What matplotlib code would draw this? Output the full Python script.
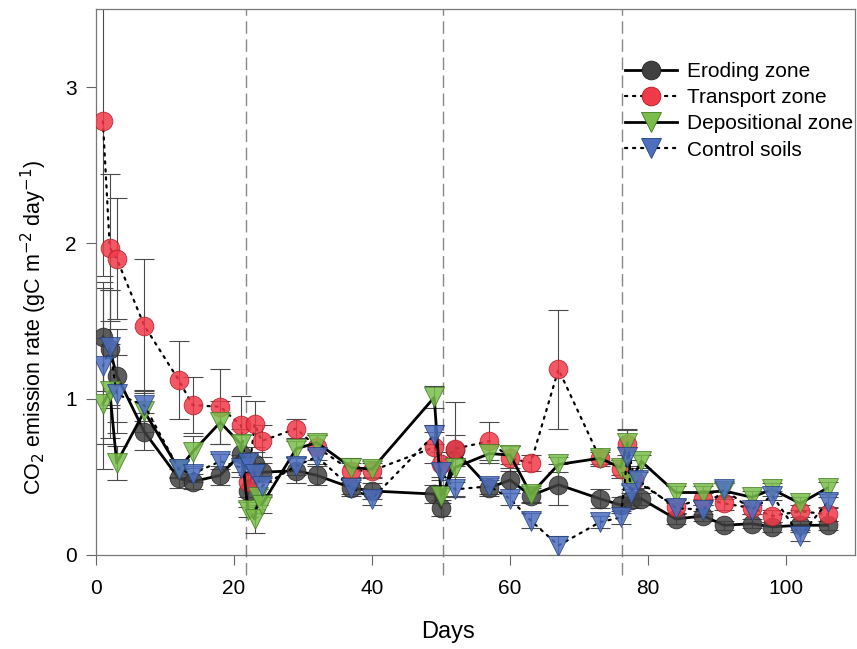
import matplotlib
matplotlib.use("Agg")
import matplotlib.pyplot as plt
from matplotlib.lines import Line2D

plt.rcParams['font.family'] = ['Liberation Sans', 'DejaVu Sans']

# ---- data ----
ero_days = [1, 2, 3, 7, 12, 14, 18, 21, 22, 23, 24, 29, 32, 37, 40, 49, 50, 52, 57, 60, 63, 67, 73, 76, 77.5, 79, 84, 88, 91, 95, 98, 102, 106]
ero_vals = [1.40, 1.32, 1.15, 0.79, 0.49, 0.47, 0.51, 0.65, 0.41, 0.58, 0.53, 0.54, 0.51, 0.43, 0.41, 0.39, 0.30, 0.67, 0.43, 0.48, 0.38, 0.45, 0.36, 0.32, 0.35, 0.36, 0.23, 0.25, 0.19, 0.20, 0.18, 0.19, 0.19]
ero_err = [0.35, 0.38, 0.30, 0.12, 0.06, 0.05, 0.06, 0.12, 0.10, 0.08, 0.06, 0.08, 0.06, 0.05, 0.05, 0.06, 0.05, 0.10, 0.05, 0.08, 0.05, 0.13, 0.06, 0.05, 0.05, 0.04, 0.03, 0.03, 0.03, 0.03, 0.03, 0.03, 0.03]

tra_days = [1, 2, 3, 7, 12, 14, 18, 21, 22, 23, 24, 29, 32, 37, 40, 49, 50, 52, 57, 60, 63, 67, 73, 76, 77, 78, 84, 88, 91, 95, 98, 102, 106]
tra_vals = [2.78, 1.97, 1.90, 1.47, 1.12, 0.96, 0.95, 0.83, 0.47, 0.84, 0.73, 0.81, 0.69, 0.54, 0.54, 0.69, 0.58, 0.68, 0.73, 0.62, 0.59, 1.19, 0.62, 0.55, 0.71, 0.48, 0.31, 0.36, 0.33, 0.30, 0.25, 0.28, 0.26]
tra_err = [0.99, 0.47, 0.39, 0.43, 0.25, 0.18, 0.24, 0.19, 0.10, 0.15, 0.10, 0.06, 0.08, 0.05, 0.05, 0.10, 0.08, 0.30, 0.12, 0.08, 0.05, 0.38, 0.05, 0.06, 0.10, 0.06, 0.04, 0.04, 0.04, 0.04, 0.04, 0.04, 0.04]

dep_days = [1, 2, 3, 7, 12, 14, 18, 21, 22, 23, 23.5, 24, 29, 32, 37, 40, 49, 50, 52, 57, 60, 63, 67, 73, 76, 77, 77.5, 79, 84, 88, 91, 95, 98, 102, 106]
dep_vals = [0.97, 1.05, 0.59, 0.92, 0.55, 0.66, 0.85, 0.71, 0.29, 0.23, 0.37, 0.32, 0.68, 0.72, 0.56, 0.55, 1.01, 0.38, 0.56, 0.65, 0.64, 0.39, 0.58, 0.62, 0.56, 0.72, 0.47, 0.60, 0.40, 0.40, 0.41, 0.37, 0.42, 0.33, 0.43]
dep_err = [0.42, 0.30, 0.11, 0.13, 0.06, 0.10, 0.14, 0.10, 0.05, 0.09, 0.05, 0.05, 0.05, 0.05, 0.06, 0.05, 0.07, 0.05, 0.06, 0.06, 0.06, 0.05, 0.05, 0.04, 0.05, 0.08, 0.05, 0.04, 0.04, 0.04, 0.05, 0.04, 0.04, 0.04, 0.04]

con_days = [1, 2, 3, 7, 12, 14, 18, 21, 22, 23, 24, 29, 32, 37, 40, 49, 50, 52, 57, 60, 63, 67, 73, 76, 77, 77.5, 78.5, 84, 88, 91, 95, 98, 102, 106]
con_vals = [1.21, 1.33, 1.03, 0.96, 0.55, 0.52, 0.60, 0.56, 0.59, 0.52, 0.44, 0.57, 0.63, 0.43, 0.36, 0.77, 0.53, 0.42, 0.44, 0.36, 0.22, 0.06, 0.21, 0.24, 0.63, 0.40, 0.48, 0.30, 0.29, 0.42, 0.29, 0.38, 0.12, 0.34]
con_err = [0.50, 0.37, 0.25, 0.10, 0.05, 0.05, 0.05, 0.06, 0.06, 0.05, 0.05, 0.06, 0.05, 0.04, 0.04, 0.06, 0.05, 0.05, 0.05, 0.04, 0.05, 0.06, 0.04, 0.04, 0.06, 0.05, 0.05, 0.03, 0.03, 0.04, 0.03, 0.03, 0.03, 0.03]

phase_days = [21.8, 50.3, 76.2]
x_ticks = [0, 20, 40, 60, 80, 100]
y_ticks = [0, 1, 2, 3]

# ---- figure ----
fig = plt.figure(figsize=(8.57, 6.49), dpi=100)
ax = fig.add_axes([0.112, 0.145, 0.886, 0.841])
ax.set_xlim(0, 110)
ax.set_ylim(0, 3.5)

for d in phase_days:
    ax.axvline(d, ymin=-0.037, ymax=1, color='#888888', lw=1.0,
               linestyle=(0, (9, 4)), clip_on=False, zorder=1)

DOT = (0, (1, 2.6))
series = [
    ('Eroding zone', ero_days, ero_vals, ero_err, 'o', '#404040', '#222222', '-', 13.5),
    ('Transport zone', tra_days, tra_vals, tra_err, 'o', '#f03a48', '#b01822', DOT, 13.5),
    ('Depositional zone', dep_days, dep_vals, dep_err, 'v', '#7abd4a', '#3f7a1e', '-', 14),
    ('Control soils', con_days, con_vals, con_err, 'v', '#4d6fbf', '#23407e', DOT, 14),
]

handles = []
for (lab, d, v, e, m, fc, ec, ls, ms) in series:
    ax.errorbar(d, v, yerr=e, fmt='none', ecolor='#4a4a4a', elinewidth=0.8,
                capsize=7, capthick=0.8, zorder=2)
for i, (lab, d, v, e, m, fc, ec, ls, ms) in enumerate(series):
    lw = 2.0 if ls == '-' else 1.6
    ax.plot(d, v, color='black', lw=lw, linestyle=ls, zorder=3 + i * 2,
            solid_capstyle='round', dash_capstyle='round')
    ax.plot(d, v, linestyle='none', marker=m, markersize=ms, markerfacecolor=fc,
            markeredgecolor=ec, markeredgewidth=0.6, alpha=0.85, zorder=4 + i * 2)
    handles.append(Line2D([0], [0], color='black', lw=lw, linestyle=ls,
                          marker=m, markersize=ms, markerfacecolor=fc,
                          markeredgecolor=ec, markeredgewidth=0.6,
                          dash_capstyle='round'))

ax.legend(handles, [s[0] for s in series], loc='upper right',
          bbox_to_anchor=(1.016, 0.93), frameon=False, fontsize=15,
          handlelength=2.5, handletextpad=0.45, labelspacing=0.35,
          borderaxespad=0.3)

ax.set_xticks(x_ticks)
ax.set_yticks(y_ticks)
ax.tick_params(axis='both', which='major', direction='out', length=7,
               width=0.8, color='#666666', labelsize=15)
ax.tick_params(axis='y', pad=7)
ax.tick_params(axis='x', pad=10)
ax.tick_params(top=False, right=False)
for sp in ax.spines.values():
    sp.set_color('#777777')
    sp.set_linewidth(0.9)

ax.set_xlabel('Days', fontsize=17)
ax.set_ylabel('CO$_2$ emission rate (gC m$^{-2}$ day$^{-1}$)', fontsize=15.5)
ax.xaxis.set_label_coords(0.464, -0.122)
ax.yaxis.set_label_coords(-0.062, 0.417)

fig.savefig('out.png', dpi=100)
